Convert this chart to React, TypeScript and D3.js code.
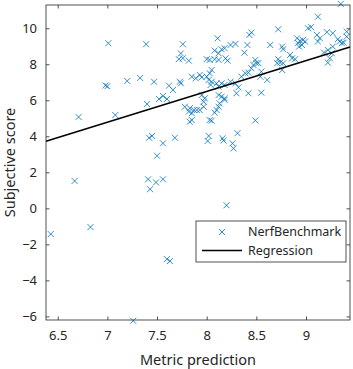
import { useEffect, useRef } from "react";
import * as d3 from "d3";

// metric prediction (x) and subjective score (y) per sample
const metricPrediction = [
  6.43, 6.67, 6.71, 6.83, 6.98, 7.0, 7.01, 7.08, 7.2, 7.26, 7.33, 7.39, 7.4, 7.41, 7.42, 7.43,
  7.45, 7.47, 7.49, 7.5, 7.52, 7.56, 7.56, 7.56, 7.6, 7.6, 7.62, 7.63, 7.66, 7.68, 7.76, 7.74,
  7.72, 7.76, 7.82, 7.73, 7.74, 7.85, 7.89, 7.93, 7.95, 8.0, 8.03, 8.05, 8.02, 8.05, 8.04,
  8.1, 8.12, 8.15, 8.18, 8.24, 8.29, 8.32, 8.35, 8.39, 8.42, 8.45, 8.5, 8.3, 8.42, 8.55, 8.12,
  8.15, 8.18, 8.18, 8.13, 8.12, 8.1, 8.08, 7.95, 7.98, 7.97, 7.97, 7.78, 7.83, 7.87, 7.9, 7.93,
  7.82, 7.85, 7.83, 7.85, 8.03, 8.05, 8.49, 8.02, 8.01, 8.16, 8.17, 8.26, 8.27, 8.31, 8.2, 8.0,
  8.03, 8.08, 8.12, 8.19, 8.21, 8.08, 8.15, 8.18, 8.24, 8.29, 8.11, 8.38, 8.41, 8.43, 8.45,
  8.49, 8.52, 8.47, 8.55, 8.61, 8.54, 8.12, 8.64, 8.72, 8.76, 8.77, 8.84, 8.86, 8.89, 8.72,
  8.74, 8.71, 8.77, 8.76, 8.91, 8.94, 8.97, 8.92, 8.96, 8.99, 8.93, 9.02, 9.05, 9.12, 9.35,
  9.11, 9.14, 9.12, 9.21, 9.27, 9.41, 9.41, 9.32, 9.34, 9.38, 9.36, 9.27, 9.18, 9.22, 9.26,
  9.24, 9.22,
];
const subjectiveScore = [
  -1.43, 1.52, 5.07, -1.04, 6.82, 6.78, 9.17, 5.18, 7.07, -6.24, 7.24, 9.11, 5.79, 1.61, 3.92,
  1.06, 4.02, 7.03, 1.44, 2.92, 6.07, 6.24, 3.61, 1.61, 6.07, -2.82, 6.81, -2.93, 6.57, 3.92,
  9.11, 8.6, 8.28, 8.33, 8.2, 7.03, 6.94, 7.31, 7.22, 7.41, 7.28, 7.31, 7.5, 7.68, 7.13, 7.03,
  6.85, 6.94, 6.76, 6.94, 6.85, 7.03, 6.94, 6.72, 7.31, 7.5, 7.53, 7.78, 8.06, 6.39, 6.39, 6.42,
  6.29, 6.2, 6.11, 6.02, 5.83, 5.64, 5.46, 5.31, 6.29, 6.11, 5.92, 5.64, 5.64, 5.56, 5.46, 5.46,
  5.46, 5.37, 5.28, 4.81, 4.9, 4.9, 4.87, 4.88, 4.02, 3.74, 3.89, 3.76, 3.61, 3.33, 4.17, 0.17,
  8.28, 8.24, 8.28, 8.24, 8.33, 8.2, 8.76, 8.83, 8.89, 9.07, 9.13, 9.44, 8.64, 9.07, 9.63,
  9.76, 8.24, 8.06, 7.96, 7.59, 7.13, 7.31, 8.61, 9.07, 9.94, 8.98, 8.83, 8.52, 8.33, 8.28,
  8.28, 8.09, 8.06, 8.06, 7.68, 9.44, 9.31, 9.35, 9.17, 9.07, 9.26, 8.98, 10.0, 10.06, 10.64,
  11.35, 9.63, 9.44, 9.26, 9.78, 9.72, 9.81, 9.53, 9.39, 9.26, 9.2, 9.17, 8.98, 8.65, 8.79,
  8.61, 8.33, 8.09,
];

// fitted regression
const regressionSlope = 1.71;
const regressionIntercept = 3.72 - 1.71 * 6.38;

const xDomain = [6.382, 9.443];
const yDomain = [-6.2, 11.29];
const xTicks = [6.5, 7, 7.5, 8, 8.5, 9];
const yTicks = [-6, -4, -2, 0, 2, 4, 6, 8, 10];
const legendLabels = ["NerfBenchmark", "Regression"];

const W = 353;
const H = 369;
const AXIS = "#262626";
const BLUE = "#0072BD";
const FONT = "'Noto Sans', sans-serif";

export default function App() {
  const ref = useRef<SVGSVGElement | null>(null);

  useEffect(() => {
    if (!ref.current) return;
    const svg = d3.select(ref.current);
    svg.selectAll("*").remove();

    const m = { l: 46, t: 5, r: 3, b: 49 };
    const w = W - m.l - m.r;
    const h = H - m.t - m.b;

    const x = d3.scaleLinear().domain(xDomain).range([0, w]);
    const y = d3.scaleLinear().domain(yDomain).range([h, 0]);

    const g = svg.append("g").attr("transform", `translate(${m.l},${m.t})`);

    g.append("rect")
      .attr("width", w)
      .attr("height", h)
      .attr("fill", "#fff");

    // ── Points ──────────────────────────────────────────────────────────────
    const pts = metricPrediction.map((v, i) => [v, subjectiveScore[i]]);
    const s = 3;
    g.append("g")
      .selectAll("path")
      .data(pts)
      .enter()
      .append("path")
      .attr("transform", (d) => `translate(${x(d[0])},${y(d[1])})`)
      .attr("d", `M${-s},${-s}L${s},${s}M${-s},${s}L${s},${-s}`)
      .attr("stroke", BLUE)
      .attr("stroke-width", 0.8)
      .attr("fill", "none");

    // ── Regression line ─────────────────────────────────────────────────────
    const line = d3
      .line<number>()
      .x((d) => x(d))
      .y((d) => y(regressionIntercept + regressionSlope * d));
    g.append("path")
      .datum(xDomain)
      .attr("d", line)
      .attr("stroke", "#000")
      .attr("stroke-width", 1.5)
      .attr("fill", "none");

    // ── Axes (box, ticks inside on all sides) ───────────────────────────────
    const tl = 3.5;
    const styleAxis = (sel: any) => {
      sel.select(".domain").remove();
      sel.selectAll("line").attr("stroke", AXIS).attr("stroke-width", 0.8);
      sel.selectAll("text")
        .attr("font-size", 13)
        .attr("font-family", FONT)
        .attr("fill", AXIS);
    };

    g.append("g")
      .attr("transform", `translate(0,${h})`)
      .call(d3.axisBottom(x).tickValues(xTicks).tickSize(-tl).tickPadding(11).tickFormat(d3.format("")))
      .call(styleAxis);
    g.append("g")
      .call(d3.axisTop(x).tickValues(xTicks).tickSize(-tl).tickFormat(() => ""))
      .call(styleAxis);
    g.append("g")
      .call(d3.axisLeft(y).tickValues(yTicks).tickSize(-tl).tickPadding(9).tickFormat(d3.format("")))
      .call(styleAxis);
    g.append("g")
      .attr("transform", `translate(${w},0)`)
      .call(d3.axisRight(y).tickValues(yTicks).tickSize(-tl).tickFormat(() => ""))
      .call(styleAxis);

    g.append("rect")
      .attr("width", w)
      .attr("height", h)
      .attr("fill", "none")
      .attr("stroke", AXIS)
      .attr("stroke-width", 0.8);

    // ── Axis labels ─────────────────────────────────────────────────────────
    svg.append("text")
      .attr("x", m.l + w / 2)
      .attr("y", H - 4)
      .attr("text-anchor", "middle")
      .attr("font-size", 14.5)
      .attr("font-family", FONT)
      .attr("fill", AXIS)
      .text("Metric prediction");
    svg.append("text")
      .attr("transform", `translate(15,${m.t + h / 2}) rotate(-90)`)
      .attr("text-anchor", "middle")
      .attr("font-size", 14.5)
      .attr("font-family", FONT)
      .attr("fill", AXIS)
      .text("Subjective score");

    // ── Legend ──────────────────────────────────────────────────────────────
    const lg = svg.append("g").attr("transform", "translate(196,221)");
    lg.append("rect")
      .attr("width", 150)
      .attr("height", 41)
      .attr("fill", "#fff")
      .attr("stroke", AXIS)
      .attr("stroke-width", 0.8);
    lg.append("path")
      .attr("transform", "translate(26,11)")
      .attr("d", `M${-s},${-s}L${s},${s}M${-s},${s}L${s},${-s}`)
      .attr("stroke", BLUE)
      .attr("stroke-width", 0.8);
    lg.append("line")
      .attr("x1", 6)
      .attr("x2", 46)
      .attr("y1", 29.5)
      .attr("y2", 29.5)
      .attr("stroke", "#000")
      .attr("stroke-width", 1.5);
    lg.selectAll("text.lab")
      .data(legendLabels)
      .enter()
      .append("text")
      .attr("class", "lab")
      .attr("x", 52)
      .attr("y", (_, i) => 11 + i * 18.5)
      .attr("dy", "0.35em")
      .attr("font-size", 12.5)
      .attr("font-family", FONT)
      .attr("fill", AXIS)
      .text((d) => d);
  }, []);

  return (
    <svg
      ref={ref}
      width={W}
      height={H}
      style={{ position: "absolute", left: 0, top: 0, background: "#fff" }}
    />
  );
}
